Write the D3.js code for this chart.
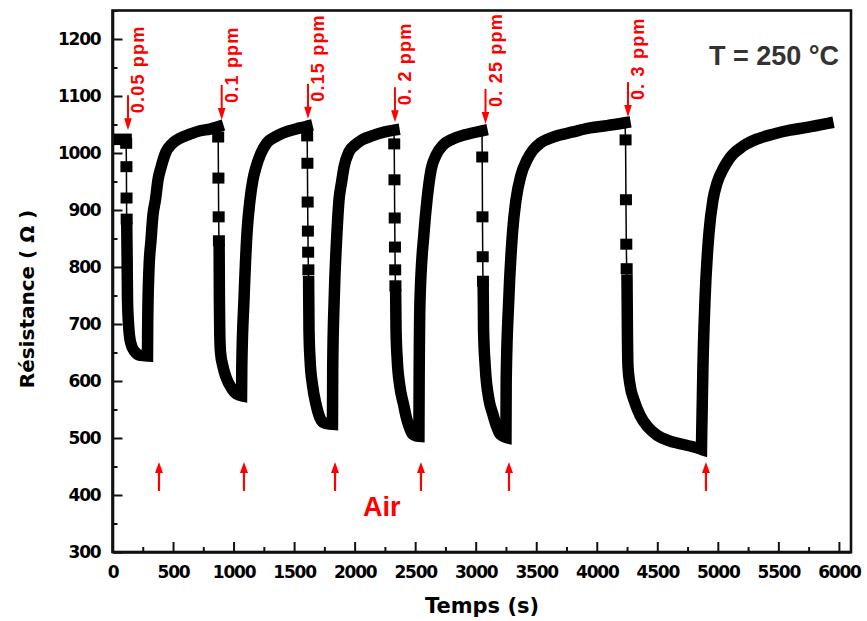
<!DOCTYPE html>
<html>
<head>
<meta charset="utf-8">
<script src="https://cdn.jsdelivr.net/npm/d3@7"></script>
<style>
  html, body { margin: 0; padding: 0; background: #fff; }
  svg { display: block; }
</style>
</head>
<body>
<svg id="chart" width="867" height="621"></svg>
<script>
// ---- axis ticks ----
const xTicks = [0, 500, 1000, 1500, 2000, 2500, 3000, 3500, 4000, 4500, 5000, 5500, 6000];
const xMinor = [250, 750, 1250, 1750, 2250, 2750, 3250, 3750, 4250, 4750, 5250, 5750];
const yTicks = [300, 400, 500, 600, 700, 800, 900, 1000, 1100, 1200];
const yMinor = [350, 450, 550, 650, 750, 850, 950, 1050, 1150, 1250];

// ---- gas pulses: injection time (s), dose label, resistance where the arrow points ----
const gasTimes  = [128, 902, 1615, 2333, 3081, 4258];
const gasLabels = ["0.05 ppm", "0.1 ppm", "0.15 ppm", "0. 2 ppm", "0. 25 ppm", "0. 3 ppm"];
const gasTipR   = [1040, 1058, 1060, 1054, 1051, 1063];

// ---- air purge times (s) ----
const airTimes = [384, 1086, 1838, 2548, 3275, 4902];

// ---- measured resistance, [time (s), R (Ω)] ----
// baseline before the first pulse
const baseline = [[60, 1024], [112, 1024]];

// sparse samples recorded while the resistance drops right after each injection
const switch1 = [[113, 1017], [115, 976], [116, 921], [117, 884]];
const switch2 = [[873, 1028], [875, 956], [877, 888], [879, 846]];
const switch3 = [[1608, 1030], [1610, 982], [1612, 914], [1614, 863], [1616, 826], [1618, 795]];
const switch4 = [[2327, 1016], [2329, 953], [2331, 886], [2333, 835], [2335, 795], [2337, 767]];
const switch5 = [[3054, 993], [3056, 888], [3058, 818], [3060, 775]];
const switch6 = [[4238, 1023], [4241, 918], [4244, 840], [4247, 797]];

// continuous response + recovery for each pulse
const cycle1 = [[118, 868], [121, 812], [124, 742], [133, 698], [149, 668], [182, 652], [227, 645], [289, 644],
  [291, 707], [301, 795], [318, 847], [334, 891], [355, 918], [376, 953], [401, 975], [442, 1002],
  [491, 1016], [558, 1026], [640, 1033], [723, 1039], [805, 1042], [871, 1046]];
const cycle2 = [[881, 830], [883, 742], [886, 684], [892, 651], [913, 625], [937, 607], [987, 586], [1025, 577], [1066, 574],
  [1068, 625], [1086, 742], [1111, 860], [1136, 918], [1160, 953], [1185, 975], [1227, 1000],
  [1276, 1018], [1342, 1028], [1408, 1035], [1549, 1044], [1606, 1047]];
const cycle3 = [[1620, 774], [1623, 690], [1632, 637], [1652, 593], [1680, 560], [1705, 540], [1735, 528], [1775, 525], [1817, 524],
  [1819, 625], [1831, 742], [1854, 860], [1871, 918], [1891, 947], [1912, 975], [1953, 1002],
  [2003, 1014], [2061, 1023], [2143, 1030], [2250, 1037], [2325, 1040]];
const cycle4 = [[2339, 751], [2342, 690], [2352, 637], [2372, 593], [2405, 558], [2425, 538], [2450, 520], [2478, 507], [2505, 504], [2531, 503],
  [2533, 602], [2540, 742], [2573, 860], [2598, 918], [2631, 970], [2672, 996], [2730, 1014],
  [2804, 1024], [2912, 1032], [3052, 1039]];
const cycle5 = [[3062, 760], [3065, 690], [3079, 625], [3110, 567], [3140, 543], [3170, 522], [3205, 506], [3250, 501],
  [3252, 602], [3273, 742], [3304, 860], [3333, 918], [3374, 961], [3424, 988], [3473, 1005],
  [3531, 1017], [3639, 1028], [3804, 1037], [3944, 1044], [4085, 1048], [4233, 1053]];
const cycle6 = [[4250, 777], [4253, 690], [4258, 625], [4275, 593], [4307, 567], [4357, 540], [4423, 519],
  [4498, 505], [4588, 496], [4688, 490], [4787, 485], [4865, 480],
  [4867, 509], [4877, 625], [4894, 742], [4927, 860], [4960, 918], [4993, 947], [5051, 975],
  [5101, 992], [5208, 1012], [5331, 1025], [5455, 1033], [5596, 1040], [5736, 1045], [5909, 1052]];

const switches = [switch1, switch2, switch3, switch4, switch5, switch6];
const cycles = [cycle1, cycle2, cycle3, cycle4, cycle5, cycle6];

// ---- layout ----
const svg = d3.select("#chart");
const x = d3.scaleLinear().domain([0, 6100]).range([112.5, 851]);
const y = d3.scaleLinear().domain([300, 1250]).range([552, 10.5]);
const RED = "#ff0000";
const tickFont = "'DejaVu Sans', Verdana, sans-serif";
const annFont = "'Liberation Sans', Arial, sans-serif";

// frame
svg.append("rect")
  .attr("x", x(0)).attr("y", y(1250))
  .attr("width", x(6100) - x(0)).attr("height", y(300) - y(1250))
  .attr("fill", "none").attr("stroke", "#111").attr("stroke-width", 2.6);

// x axis
svg.append("g").attr("transform", `translate(0,${y(300)})`)
  .call(d3.axisBottom(x).tickValues(xTicks).tickSize(-10).tickSizeOuter(0).tickPadding(14).tickFormat(d3.format("d")));
svg.append("g").attr("transform", `translate(0,${y(300)})`)
  .call(d3.axisBottom(x).tickValues(xMinor).tickSize(-5).tickSizeOuter(0).tickFormat(""))
  .call(g => g.select(".domain").remove());

// y axis
svg.append("g").attr("transform", `translate(${x(0)},0)`)
  .call(d3.axisLeft(y).tickValues(yTicks).tickSize(-10).tickSizeOuter(0).tickPadding(12).tickFormat(d3.format("d")));
svg.append("g").attr("transform", `translate(${x(0)},0)`)
  .call(d3.axisLeft(y).tickValues(yMinor).tickSize(-5).tickSizeOuter(0).tickFormat(""))
  .call(g => g.select(".domain").remove());

svg.selectAll(".domain").attr("stroke", "#111").attr("stroke-width", 2.6);
svg.selectAll(".tick line").attr("stroke", "#111").attr("stroke-width", 2);
svg.selectAll(".tick text")
  .attr("fill", "#000")
  .style("font-family", tickFont)
  .style("font-weight", "bold")
  .style("font-size", "17px")
  .style("letter-spacing", "-1.2px");

// axis titles
svg.append("text")
  .attr("x", 482).attr("y", 613)
  .attr("text-anchor", "middle")
  .style("font-family", tickFont).style("font-weight", "bold").style("font-size", "21px")
  .text("Temps (s)");
svg.append("text")
  .attr("transform", "translate(34,299) rotate(-90)")
  .attr("text-anchor", "middle")
  .style("font-family", tickFont).style("font-weight", "bold").style("font-size", "20px")
  .text("Résistance ( Ω )");

// ---- data ----
const smooth = d3.line().x(d => x(d[0])).y(d => y(d[1])).curve(d3.curveMonotoneX);
const straight = d3.line().x(d => x(d[0])).y(d => y(d[1]));

// thin connectors through the sparse samples of each drop
const prevEnds = [baseline[baseline.length - 1], ...cycles.slice(0, 5).map(c => c[c.length - 1])];
switches.forEach((sw, i) => {
  svg.append("path")
    .attr("d", straight([prevEnds[i], ...sw, cycles[i][0]]))
    .attr("fill", "none").attr("stroke", "#000").attr("stroke-width", 1.5);
});

// dense sampling merges into a thick trace; the response and the recovery of a
// pulse are smoothed separately and joined at the minimum with a sharp corner
function thick(d) {
  svg.append("path")
    .attr("d", d)
    .attr("fill", "none").attr("stroke", "#000")
    .attr("stroke-width", 11.5)
    .attr("stroke-linecap", "square")
    .attr("stroke-linejoin", "miter")
    .attr("stroke-miterlimit", 3);
}
thick(smooth(baseline));
cycles.forEach(seg => {
  const iMin = d3.minIndex(seg, d => d[1]);
  const fall = smooth(seg.slice(0, iMin + 1));
  const rise = smooth(seg.slice(iMin)).replace(/^M/, "L");
  thick(fall + rise);
});

// square markers of the sparse samples
svg.append("g").selectAll("rect")
  .data(switches.flat())
  .join("rect")
  .attr("x", d => x(d[0]) - 6).attr("y", d => y(d[1]) - 5.5)
  .attr("width", 12).attr("height", 11)
  .attr("fill", "#000");

// ---- annotations ----
// gas injection arrows and dose labels
gasTimes.forEach((t, i) => {
  const ax = x(t), tipY = y(gasTipR[i]);
  svg.append("line")
    .attr("x1", ax).attr("x2", ax).attr("y1", tipY - 35).attr("y2", tipY - 10)
    .attr("stroke", RED).attr("stroke-width", 2);
  svg.append("path")
    .attr("d", `M${ax - 3.8},${tipY - 12} L${ax + 3.8},${tipY - 12} L${ax},${tipY} Z`)
    .attr("fill", RED);
  svg.append("text")
    .attr("transform", `translate(${ax + 16},${tipY - 17}) rotate(-90)`)
    .attr("fill", RED)
    .style("font-family", annFont).style("font-weight", "bold").style("font-size", "18px")
    .style("letter-spacing", "1.2px")
    .text(gasLabels[i]);
});

// air purge arrows
const airTipY = y(458);
airTimes.forEach(t => {
  const ax = x(t);
  svg.append("line")
    .attr("x1", ax).attr("x2", ax).attr("y1", airTipY + 9).attr("y2", airTipY + 29)
    .attr("stroke", RED).attr("stroke-width", 2.2);
  svg.append("path")
    .attr("d", `M${ax - 4},${airTipY + 11} L${ax + 4},${airTipY + 11} L${ax},${airTipY} Z`)
    .attr("fill", RED);
});

svg.append("text")
  .attr("x", 363).attr("y", 516)
  .attr("fill", RED)
  .style("font-family", annFont).style("font-weight", "bold").style("font-size", "27px")
  .text("Air");

svg.append("text")
  .attr("x", 709).attr("y", 65)
  .attr("fill", "#333")
  .style("font-family", annFont).style("font-weight", "bold").style("font-size", "27px")
  .text("T = 250 °C");
</script>
</body>
</html>
